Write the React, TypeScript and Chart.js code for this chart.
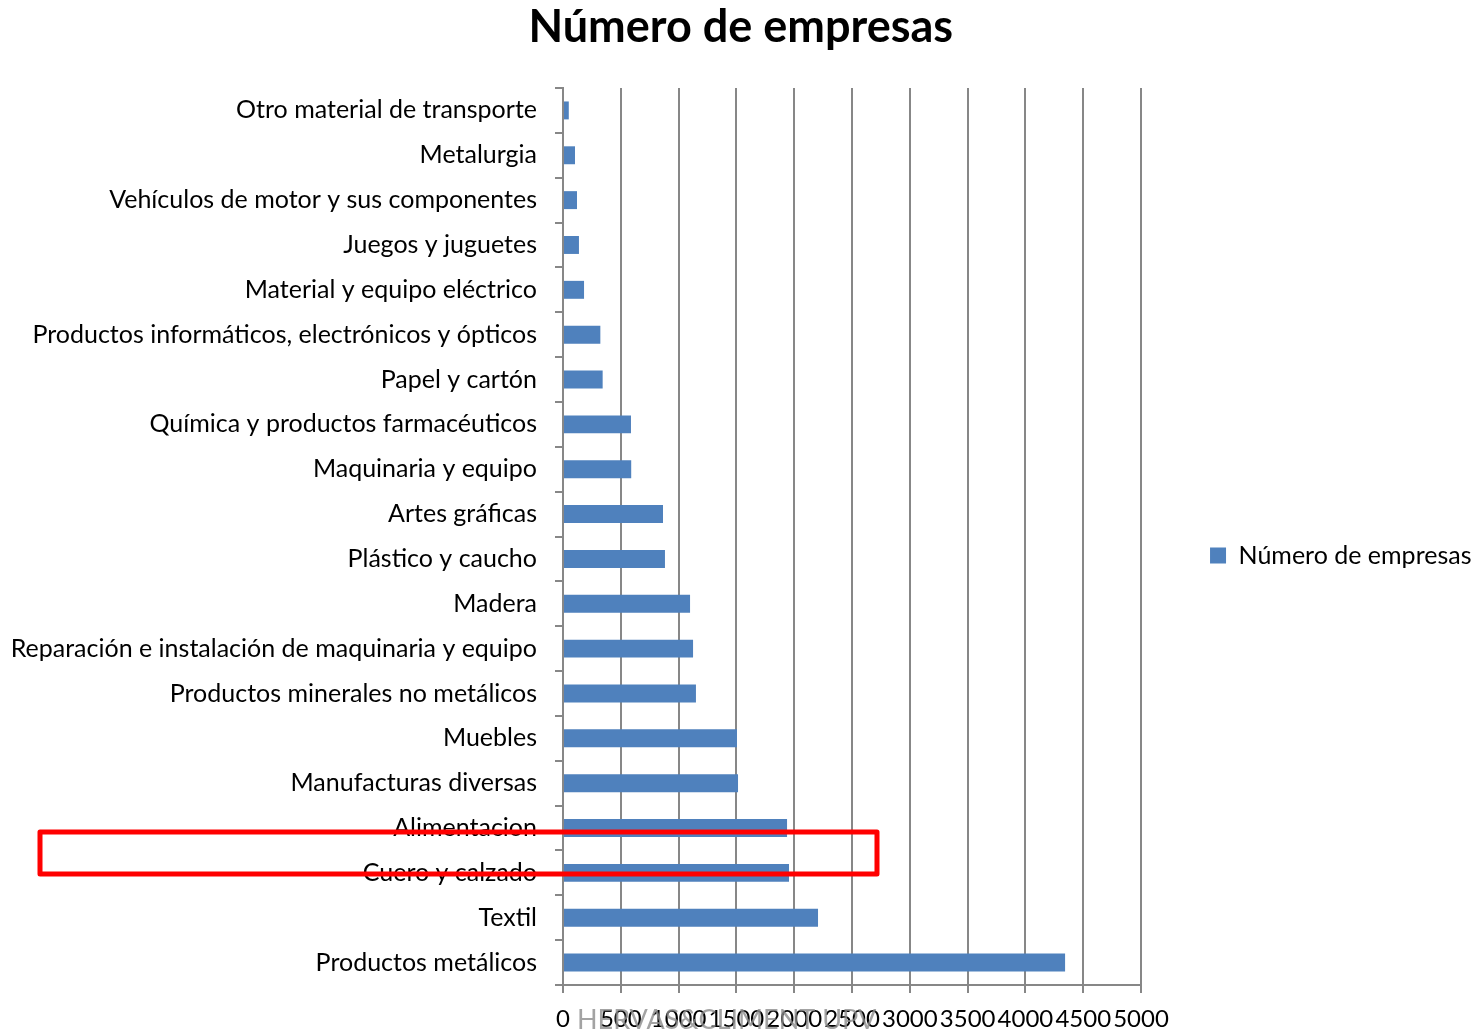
import React, { useEffect, useRef } from "react";
import { Chart, registerables } from "chart.js";

Chart.register(...registerables);

const chartTitle = "Número de empresas";
const seriesName = "Número de empresas";
const watermark = "HERVAS&CLIMENT UPV";

const categories = [
  "Otro material de transporte",
  "Metalurgia",
  "Vehículos de motor y sus componentes",
  "Juegos y juguetes",
  "Material y equipo eléctrico",
  "Productos informáticos, electrónicos y ópticos",
  "Papel y cartón",
  "Química y productos farmacéuticos",
  "Maquinaria y equipo",
  "Artes gráficas",
  "Plástico y caucho",
  "Madera",
  "Reparación e instalación de maquinaria y equipo",
  "Productos minerales no metálicos",
  "Muebles",
  "Manufacturas diversas",
  "Alimentacion",
  "Cuero y calzado",
  "Textil",
  "Productos metálicos",
];

const values = [
  50, 104, 121, 138, 182, 323, 343, 588, 590, 865, 882, 1099, 1125, 1150,
  1505, 1514, 1938, 1955, 2206, 4343,
];

const xMin = 0;
const xMax = 5000;
const xStep = 500;

const highlighted = ["Alimentacion", "Cuero y calzado"];
const highlightRightValue = 2716;

const FONT = "Lato";

const overlayPlugin = {
  id: "overlay",
  afterDraw(chart: any) {
    const { ctx, scales } = chart;
    const x = scales.x;
    const y = scales.y;
    const i0 = categories.indexOf(highlighted[0]);
    const i1 = categories.indexOf(highlighted[1]);
    const top = y.getPixelForValue(i0) + 4;
    const bottom = y.getPixelForValue(i1) + 1;
    const left = 40;
    const right = x.getPixelForValue(highlightRightValue);
    ctx.save();
    ctx.strokeStyle = "#ff0000";
    ctx.lineWidth = 5;
    ctx.lineJoin = "round";
    ctx.strokeRect(left, top, right - left, bottom - top);
    ctx.fillStyle = "rgba(140,140,140,0.8)";
    ctx.font = `27px ${FONT}`;
    ctx.textBaseline = "middle";
    ctx.textAlign = "left";
    ctx.fillText(watermark, 577, 1020);
    ctx.restore();
  },
};

export default function App() {
  const ref = useRef<HTMLCanvasElement | null>(null);

  useEffect(() => {
    if (!ref.current) return;
    const chart = new Chart(ref.current, {
      type: "bar",
      data: {
        labels: categories,
        datasets: [
          {
            label: seriesName,
            data: values,
            backgroundColor: "#4F81BD",
            borderWidth: 0,
            barPercentage: 0.4,
            categoryPercentage: 1,
          },
        ],
      },
      options: {
        indexAxis: "y",
        responsive: false,
        animation: false,
        layout: { padding: { left: 0, right: -5.5, top: 0, bottom: 0 } },
        plugins: {
          title: {
            display: true,
            text: chartTitle,
            color: "#000",
            font: { family: FONT, size: 45, weight: "bold", lineHeight: 1.2 },
            padding: { top: 0, bottom: 34 },
          },
          legend: {
            display: true,
            position: "right",
            title: {
              display: true,
              text: "",
              font: { family: FONT, size: 20, lineHeight: 1 },
              padding: 30,
            },
            labels: {
              color: "#000",
              font: { family: FONT, size: 25 },
              boxWidth: 16,
              boxHeight: 16,
              padding: 69,
            },
          },
          tooltip: { enabled: false },
        },
        scales: {
          x: {
            min: xMin,
            max: xMax,
            ticks: {
              stepSize: xStep,
              color: "#000",
              font: { family: FONT, size: 24, lineHeight: 1 },
              padding: 14,
              autoSkip: false,
              maxRotation: 0,
              minRotation: 0,
              callback: (v: any) => String(v),
            },
            grid: {
              color: "#878787",
              lineWidth: 2,
              tickLength: 8,
            },
            border: { color: "#878787", width: 2 },
            afterFit: (scale: any) => {
              scale.height = 46;
            },
          },
          y: {
            ticks: {
              color: "#000",
              font: { family: FONT, size: 25 },
              padding: 18,
              autoSkip: false,
            },
            grid: {
              drawOnChartArea: false,
              color: "#878787",
              lineWidth: 2,
              tickLength: 8,
              offset: true,
            },
            border: { color: "#878787", width: 2 },
            afterFit: (scale: any) => {
              scale.width = 563;
            },
          },
        },
      },
      plugins: [overlayPlugin],
    });
    return () => chart.destroy();
  }, []);

  return (
    <div style={{ position: "absolute", left: 0, top: 0, width: 1476, height: 1031 }}>
      <canvas ref={ref} width={1476} height={1031} style={{ display: "block" }} />
    </div>
  );
}
